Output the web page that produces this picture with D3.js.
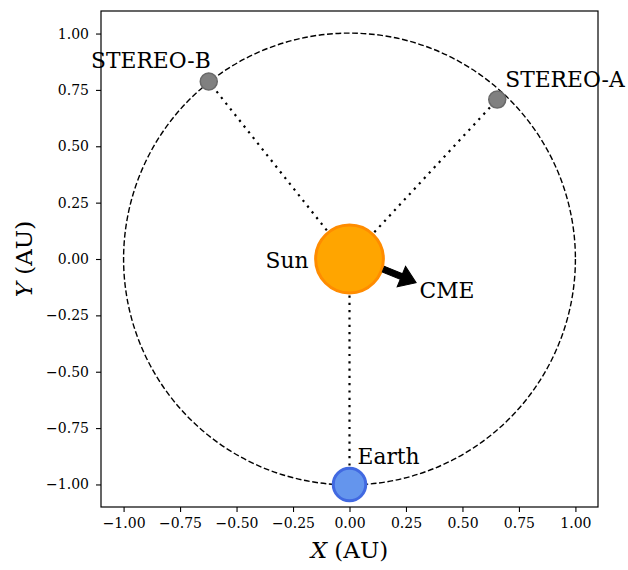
<!DOCTYPE html>
<html>
<head>
<meta charset="utf-8">
<script src="https://cdn.jsdelivr.net/npm/d3@7"></script>
<style>
  html, body { margin: 0; padding: 0; background: #fff; }
  svg { display: block; }
  text { font-family: "DejaVu Serif", serif; }
</style>
</head>
<body>
<svg id="chart" width="628" height="570"></svg>
<script>
// Heliocentric positions (AU)
const bodies = ["STEREO-B", "STEREO-A", "Earth"];
const bodyX = [-0.623, 0.654, 0.0];
const bodyY = [0.787, 0.707, -1.0];
const sunPos = [0.0, 0.0];
const orbitRadius = 1.0;
const cmeStart = [0.150, -0.045];
const cmeEnd = [0.295, -0.105];
const tickValues = [-1.0, -0.75, -0.5, -0.25, 0.0, 0.25, 0.5, 0.75, 1.0];
const axisDomain = [-1.1, 1.1];

const svg = d3.select("#chart");
const margin = { left: 101, top: 11, right: 30, bottom: 63 };
const W = 628 - margin.left - margin.right;
const H = 570 - margin.top - margin.bottom;

const x = d3.scaleLinear().domain(axisDomain).range([0, W]);
const y = d3.scaleLinear().domain(axisDomain).range([H, 0]);
const g = svg.append("g").attr("transform", `translate(${margin.left},${margin.top})`);

const fmt = v => (v < 0 ? "\u2212" : "") + Math.abs(v).toFixed(2);

// Axes
const xAxis = g.append("g").attr("transform", `translate(0,${H})`)
  .call(d3.axisBottom(x).tickValues(tickValues).tickFormat(fmt).tickSizeOuter(0).tickSize(5).tickPadding(6));
const yAxis = g.append("g")
  .call(d3.axisLeft(y).tickValues(tickValues).tickFormat(fmt).tickSizeOuter(0).tickSize(5).tickPadding(7));
[xAxis, yAxis].forEach(a => {
  a.select(".domain").remove();
  a.selectAll("line").attr("stroke", "#000").attr("stroke-width", 1.1);
  a.selectAll("text").attr("font-size", 14).attr("fill", "#000")
    .style("font-family", "'DejaVu Serif', serif");
});

// Orbit at 1 AU
g.append("circle")
  .attr("cx", x(0)).attr("cy", y(0))
  .attr("r", x(orbitRadius) - x(0))
  .attr("fill", "none").attr("stroke", "#000").attr("stroke-width", 1.4)
  .attr("stroke-dasharray", "5.8,2.6");

// Lines of sight from the Sun
bodies.forEach((b, i) => {
  g.append("line")
    .attr("x1", x(sunPos[0])).attr("y1", y(sunPos[1]))
    .attr("x2", x(bodyX[i])).attr("y2", y(bodyY[i]))
    .attr("stroke", "#000").attr("stroke-width", 2.2)
    .attr("stroke-dasharray", "2.2,5.1");
});

// Sun
const rpx = d => x(d) - x(0);
g.append("circle")
  .attr("cx", x(sunPos[0])).attr("cy", y(sunPos[1])).attr("r", rpx(0.150))
  .attr("fill", "#FFA500").attr("stroke", "#FF8C00").attr("stroke-width", 3);

// CME arrow
{
  const x1 = x(cmeStart[0]), y1 = y(cmeStart[1]);
  const x2 = x(cmeEnd[0]), y2 = y(cmeEnd[1]);
  const ang = Math.atan2(y2 - y1, x2 - x1);
  const len = Math.hypot(x2 - x1, y2 - y1);
  const headLen = 16, headW = 11, shaftW = 3;
  const pts = [
    [0, -shaftW], [len - headLen, -shaftW], [len - headLen, -headW],
    [len, 0], [len - headLen, headW], [len - headLen, shaftW], [0, shaftW]
  ];
  g.append("polygon")
    .attr("points", pts.map(p => p.join(",")).join(" "))
    .attr("transform", `translate(${x1},${y1}) rotate(${ang * 180 / Math.PI})`)
    .attr("fill", "#000").attr("stroke", "#000").attr("stroke-width", 1);
}

// Earth
g.append("circle")
  .attr("cx", x(bodyX[2])).attr("cy", y(bodyY[2])).attr("r", rpx(0.072))
  .attr("fill", "#6495ED").attr("stroke", "#4169E1").attr("stroke-width", 3);

// STEREO spacecraft
[0, 1].forEach(i => {
  g.append("circle")
    .attr("cx", x(bodyX[i])).attr("cy", y(bodyY[i])).attr("r", 8.5)
    .attr("fill", "#808080").attr("stroke", "#696969").attr("stroke-width", 1.5);
});

// Labels
const lab = (t, px, py, anchor) => g.append("text")
  .attr("x", px).attr("y", py).attr("text-anchor", anchor)
  .attr("font-size", 21.8).attr("fill", "#000")
  .style("font-family", "'DejaVu Serif', serif").text(t);
lab("STEREO-B", x(bodyX[0]) + 2, y(bodyY[0]) - 14, "end");
lab("STEREO-A", x(bodyX[1]) + 8, y(bodyY[1]) - 13, "start");
lab("Earth", x(bodyX[2]) + 8, y(bodyY[2]) - 20, "start");
lab("Sun", x(sunPos[0]) - 41, y(sunPos[1]) + 8.5, "end");
lab("CME", x(0.31), y(-0.171), "start");

// Frame
g.append("rect").attr("width", W).attr("height", H)
  .attr("fill", "none").attr("stroke", "#000").attr("stroke-width", 1.2);

// Axis titles
const xt = svg.append("text").attr("x", margin.left + W / 2).attr("y", 558)
  .attr("text-anchor", "middle").attr("font-size", 23).attr("fill", "#000")
  .style("font-family", "'DejaVu Serif', serif");
xt.append("tspan").attr("font-style", "italic").text("X");
xt.append("tspan").text(" (AU)");
const yt = svg.append("text")
  .attr("transform", `translate(32,${margin.top + H / 2}) rotate(-90)`)
  .attr("text-anchor", "middle").attr("font-size", 23).attr("fill", "#000")
  .style("font-family", "'DejaVu Serif', serif");
yt.append("tspan").attr("font-style", "italic").text("Y");
yt.append("tspan").text(" (AU)");
</script>
</body>
</html>
